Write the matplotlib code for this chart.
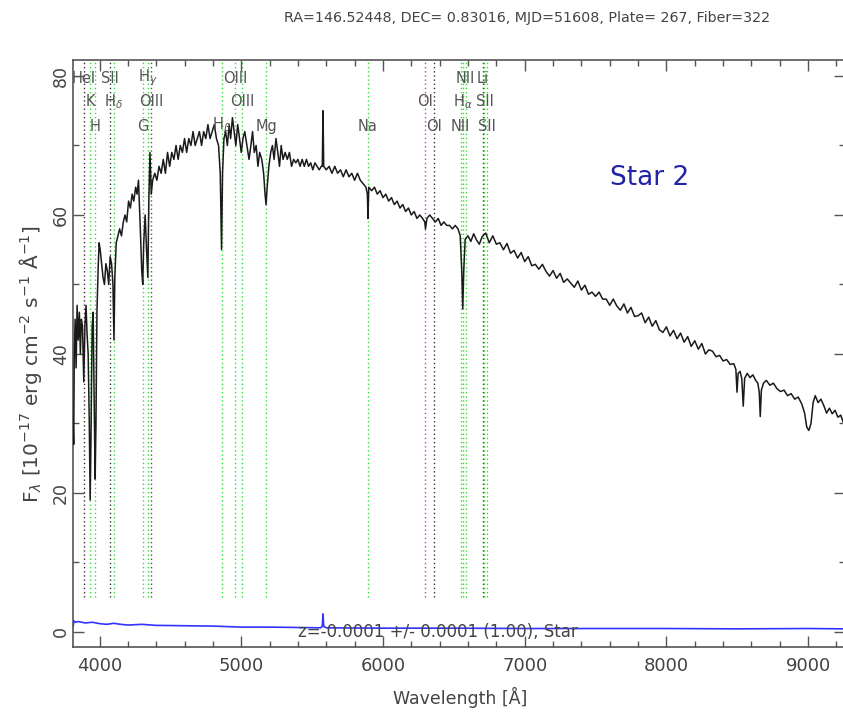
import matplotlib
matplotlib.use("Agg")
import matplotlib.pyplot as plt
from matplotlib.ticker import MultipleLocator

# ---------------- data ----------------
wave = [3813, 3818, 3822, 3828, 3835, 3842, 3850, 3858, 3865, 3872,
        3880, 3889, 3897, 3905, 3912, 3920, 3928, 3934, 3940, 3948,
        3955, 3962, 3969, 3975, 3982, 3990, 3997, 4005, 4015, 4025,
        4035, 4045, 4055, 4065, 4075, 4085, 4095, 4102, 4108, 4118,
        4130, 4142, 4155, 4168, 4180, 4192, 4205, 4218, 4230, 4242,
        4255, 4265, 4275, 4288, 4298, 4305, 4312, 4322, 4332, 4341,
        4348, 4356, 4365, 4375, 4390, 4405, 4420, 4435, 4450, 4465,
        4480, 4495, 4510, 4525, 4540, 4555, 4570, 4585, 4600, 4615,
        4630, 4645, 4660, 4675, 4690, 4705, 4720, 4735, 4750, 4765,
        4780, 4795, 4810, 4825, 4840, 4852, 4861, 4868, 4878, 4890,
        4902, 4915, 4925, 4938, 4950, 4962, 4975, 4988, 5000, 5012,
        5025, 5040, 5055, 5068, 5080, 5092, 5105, 5118, 5130, 5145,
        5158, 5168, 5175, 5183, 5195, 5208, 5220, 5232, 5245, 5258,
        5270, 5282, 5295, 5310, 5325, 5340, 5355, 5370, 5385, 5400,
        5415, 5430, 5445, 5460, 5475, 5490, 5505, 5520, 5535, 5550,
        5565, 5572, 5577, 5582, 5600, 5620, 5640, 5660, 5680, 5700,
        5720, 5740, 5760, 5780, 5800, 5820, 5840, 5860, 5880, 5890,
        5894, 5900, 5920, 5940, 5960, 5980, 6000, 6020, 6040, 6060,
        6080, 6100, 6120, 6140, 6160, 6180, 6200, 6220, 6240, 6260,
        6280, 6295, 6300, 6310, 6330, 6350, 6370, 6390, 6410, 6430,
        6450, 6470, 6490, 6510, 6530, 6545, 6556, 6563, 6570, 6580,
        6600, 6620, 6640, 6660, 6680, 6700, 6725, 6750, 6775, 6800,
        6825, 6850, 6875, 6900, 6925, 6950, 6975, 7000, 7025, 7050,
        7075, 7100, 7125, 7150, 7175, 7200, 7225, 7250, 7275, 7300,
        7325, 7350, 7375, 7400, 7425, 7450, 7475, 7500, 7525, 7550,
        7575, 7600, 7625, 7650, 7675, 7700, 7725, 7750, 7775, 7800,
        7825, 7850, 7875, 7900, 7925, 7950, 7975, 8000, 8025, 8050,
        8075, 8100, 8125, 8150, 8175, 8200, 8225, 8250, 8275, 8300,
        8325, 8350, 8375, 8400, 8425, 8450, 8475, 8490, 8498, 8506,
        8520, 8532, 8542, 8552, 8570, 8590, 8610, 8630, 8645, 8655,
        8662, 8670, 8685, 8705, 8730, 8755, 8780, 8805, 8830, 8855,
        8880, 8905, 8930, 8955, 8975, 8990, 9005, 9020, 9035, 9050,
        9070, 9090, 9110, 9130, 9150, 9170, 9190, 9210, 9230, 9247]
flux = [31, 27, 40, 45, 38, 47, 42, 46, 40, 45,
        44, 36, 44, 47, 43, 40, 30, 19, 28, 44,
        46, 34, 22, 30, 46, 52, 56, 55, 53, 51,
        50, 53, 52, 50, 54, 53, 50, 42, 51, 56,
        57, 58, 57, 59, 60, 59, 62, 61, 63, 62,
        64, 63, 65, 58, 52, 50, 56, 60, 55, 51,
        62, 69, 63, 65, 66, 65, 67, 66, 68, 66,
        69, 67, 69, 68, 70, 68, 70, 69, 71, 69,
        71, 70, 72, 70, 71, 72, 70, 72, 71, 73,
        71, 72, 73, 71, 70, 66, 55, 66, 71, 72,
        70, 73, 71, 74, 72, 70, 73, 71, 69, 71,
        72, 70, 68, 70, 72, 69, 70, 67, 69, 68,
        66, 63, 61.5, 64, 67, 69, 70, 68, 71, 69,
        67, 70, 68, 69, 68, 69, 67, 68, 67.5, 68,
        67, 68, 67, 68, 67, 67.5, 66.5, 67.5, 67, 66.5,
        67, 67, 75, 67, 66.5, 67, 66, 67, 66, 66.5,
        65.5, 66.5, 65.5, 66, 65, 66, 65, 64.5, 64, 63,
        59.5, 64, 63.5, 64, 63, 63.5, 62.5, 63, 62, 62.5,
        61.5, 62, 61, 61.5, 60.5, 61, 60, 60.5, 59.5, 60,
        59.5, 59, 58, 59.5, 60, 59.5, 59, 59.5, 58.5, 59,
        58.5, 58.5, 58, 58.5, 58, 57, 52, 46.5, 52, 56.5,
        57, 56.2, 57.3, 56.4, 55.8, 56.9, 57.4, 56, 57, 55.8,
        56, 55, 55.9, 54.5, 54.9, 53.8, 54.6, 53.3, 54, 52.7,
        52.9, 52.2, 52.9, 51.9, 51.2, 52, 50.9, 51.6, 50.3, 50.8,
        50.2, 49.6, 50.5, 49.2, 49.9, 48.6, 48.9, 48.3, 48.9, 47.9,
        47.9, 47, 47.9, 46.9, 46.3, 47.2, 45.9, 46.7, 45.4, 45.5,
        45.9, 44.5, 45.3, 44, 44.8, 43.5, 43.1, 43.9, 42.6, 43.4,
        42.2, 43, 41.7, 42.5, 41.1, 41.9, 40.7, 41.5, 40, 40.6,
        40.4, 39.6, 39.8, 39, 39.2, 38.5, 38.6, 37.8, 34.5, 37.2,
        37.5, 36.4, 32.5, 36.5, 37.2, 36.6, 37, 36.2, 35.8, 34.5,
        31, 34.8, 35.8, 36.2, 35.5, 35.8, 35, 34.6, 34.8, 34,
        34.3, 33.5, 33.8, 32.8, 31.5, 29.5, 29, 30, 33, 34,
        33, 33.5, 32.6, 31.5, 32.2, 31.4, 31.9, 30.9, 31.2, 30.2]

err_wave = [3813, 3820, 3830, 3850, 3900, 3950, 4000, 4050, 4100, 4150, 4200, 4300, 4400,
            4600, 4800, 5000, 5200, 5400, 5560, 5572, 5577, 5582, 5600, 6000, 6500, 7000,
            7500, 8000, 8500, 9000, 9247]
err_flux = [0.8, 1.6, 1.4, 1.5, 1.3, 1.4, 1.2, 1.1, 1.25, 1.1, 1.0, 1.1, 0.95,
            0.9, 0.85, 0.7, 0.7, 0.65, 0.6, 0.8, 2.6, 0.8, 0.6, 0.55, 0.55, 0.5,
            0.5, 0.5, 0.45, 0.5, 0.45]

line_wave = [3889, 3934, 3969, 4072, 4102, 4305, 4341, 4363, 4861, 4959, 5007, 5175,
             5894, 6300, 6363, 6548, 6563, 6583, 6707, 6716, 6731]
line_color = ['#333333', '#33dd33', '#33dd33', '#333333', '#33dd33', '#33dd33', '#33dd33',
              '#555555', '#33dd33', '#33dd33', '#33dd33', '#33dd33', '#33dd33', '#cc33cc',
              '#333333', '#33dd33', '#33dd33', '#33dd33', '#333333', '#33dd33', '#33dd33']
label_text = ['HeI', 'K', 'H', 'SII', r'H$_\delta$', 'G', r'H$_\gamma$', 'OIII', r'H$_\beta$',
              'OIII', 'OIII', 'Mg', 'Na', 'OI', 'OI', 'NII', r'H$_\alpha$', 'NII', 'Li',
              'SII', 'SII']
label_row = [0, 1, 2, 0, 1, 2, 0, 1, 2, 0, 1, 2, 2, 1, 2, 2, 1, 0, 0, 1, 2]
row_level = [79.7, 76.3, 72.8]

title_text = "RA=146.52448, DEC= 0.83016, MJD=51608, Plate= 267, Fiber=322"
fit_text = "z=-0.0001 +/- 0.0001 (1.00), Star"

# ---------------- figure ----------------
W, H = 843, 715
fig = plt.figure(figsize=(W / 100, H / 100), dpi=100)
ax = fig.add_axes([73 / W, 1 - 647 / H, (845 - 73) / W, (647 - 60) / H])

for lw_, c_ in zip(line_wave, line_color):
    ax.plot([lw_, lw_], [5, 82.3], color=c_, linestyle=(0, (1, 2)), linewidth=1.0, zorder=1)

ax.plot(wave, flux, color='#1a1a1a', linewidth=1.1, zorder=3)
ax.plot(err_wave, err_flux, color='#3333ff', linewidth=1.2, zorder=3)

for lw_, t, r in zip(line_wave, label_text, label_row):
    ax.text(lw_, row_level[r], t, ha='center', va='center', fontsize=10.5,
            color='#555555', zorder=4)

ax.text(6390, 0.0, fit_text, ha='center', va='center', fontsize=12,
        color='#444444', zorder=4)

ax.set_xlim(3813, 9260)
ax.set_ylim(-2.16, 82.3)
ax.xaxis.set_major_locator(MultipleLocator(1000))
ax.xaxis.set_minor_locator(MultipleLocator(200))
ax.yaxis.set_major_locator(MultipleLocator(20))
ax.yaxis.set_minor_locator(MultipleLocator(10))
ax.tick_params(which='both', direction='in', top=True, right=True, colors='#555555',
               labelcolor='#444444')
ax.tick_params(axis='x', labelsize=13, pad=7)
ax.tick_params(axis='y', labelsize=12.5, pad=2)
ax.tick_params(which='major', length=8, width=1)
ax.tick_params(which='minor', length=4, width=1)
for lab in ax.get_yticklabels():
    lab.set_rotation(90)
    lab.set_va('center')
for s in ax.spines.values():
    s.set_color('#555555')
    s.set_linewidth(1.2)

fig.text(527 / W, 1 - 18 / H, title_text, ha='center', va='center', fontsize=10.3,
         color='#444444')
fig.text(460 / W, 1 - 697 / H, "Wavelength [Å]", ha='center', va='center', fontsize=12.5,
         color='#444444')
fig.text(31 / W, 1 - 364 / H,
         r"F$_\lambda$ [10$^{-17}$ erg cm$^{-2}$ s$^{-1}$ Å$^{-1}$]",
         ha='center', va='center', rotation=90, fontsize=14.5, color='#444444')
fig.text(650 / W, 1 - 178 / H, "Star 2", ha='center', va='center', fontsize=19,
         color='#2222aa')

fig.savefig("out.png", dpi=100)
